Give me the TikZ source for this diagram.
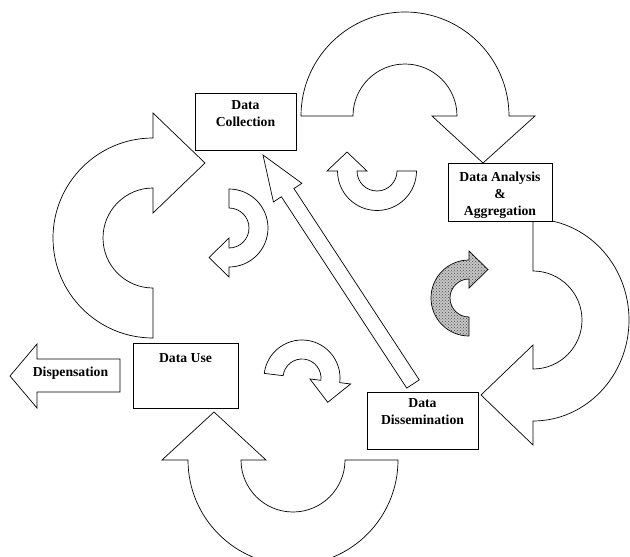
\documentclass[tikz,border=0pt]{standalone}
\usepackage{fontspec}
\setmainfont{Liberation Serif}
\usetikzlibrary{calc,patterns}
\begin{document}
\begin{tikzpicture}[x=1pt,y=1pt,yscale=-1,
  bigarrow/.style={draw=black, line width=0.7pt, fill=white, line join=miter},
  smallarrow/.style={draw=black, line width=0.7pt, fill=white, line join=miter},
  greyarrow/.style={draw=black, line width=0.7pt, fill=gray!45, line join=miter},
  box/.style={draw=black, line width=0.9pt, fill=white, inner sep=0pt},
  lbl/.style={font=\fontsize{13.7}{17}\selectfont\bfseries, align=center, inner sep=0pt},
]
\useasboundingbox (0,0) rectangle (630,557);
\clip (0,0) rectangle (630,557);

% big circular arrows
% left (tail at bottom, head to the right at top)
\draw[bigarrow] (153,288) -- (153,338) arc[start angle=90, end angle=270, radius=100]
  -- (153,113) -- (205,163) -- (153,213) -- (153,188)
  arc[start angle=270, end angle=90, radius=50] -- cycle;
% top (tail at left, head down at right)
\draw[bigarrow] (353,116) -- (301,116) arc[start angle=180, end angle=360, radius=104]
  -- (535,116) -- (483,163) -- (432,116) -- (457,116)
  arc[start angle=360, end angle=180, radius=52] -- cycle;
% right (tail at top, head to the left at bottom)
\draw[bigarrow] (533,271) -- (533,219) arc[start angle=270, end angle=450, x radius=96, y radius=101]
  -- (533,445) -- (481,395) -- (533,345) -- (533,369)
  arc[start angle=450, end angle=270, radius=49] -- cycle;
% bottom (tail at right, head up at left)
\draw[bigarrow] (345,460) -- (398,460) arc[start angle=0, end angle=180, radius=105]
  -- (162,460) -- (214,412) -- (266,460) -- (241,460)
  arc[start angle=180, end angle=0, radius=52] -- cycle;

% small arrows
\draw[smallarrow] (229,208) -- (229,189) arc[start angle=270, end angle=450, radius=39]
  -- (229,277) -- (209,257.5) -- (229,238) -- (229,248)
  arc[start angle=450, end angle=270, radius=20] -- cycle;
\draw[smallarrow] (397,171) -- (416.5,171) arc[start angle=0, end angle=180, radius=39.5]
  -- (327,171) -- (347,152) -- (367,171) -- (357,171)
  arc[start angle=180, end angle=0, radius=20] -- cycle;
\begin{scope}[shift={(302,378)}, rotate=7]
\draw[smallarrow] (-19,0) -- (-38,0) arc[start angle=180, end angle=360, radius=38]
  -- (49,0) -- (28.5,21) -- (8,0) -- (19,0)
  arc[start angle=360, end angle=180, radius=19] -- cycle;
\end{scope}
\draw[greyarrow] (469,317) -- (469,336) arc[start angle=90, end angle=270, radius=38]
  -- (469,251) -- (488,269.5) -- (469,288) -- (469,279)
  arc[start angle=270, end angle=90, radius=19] -- cycle;
\fill[pattern=crosshatch dots, pattern color=gray!60!black] (469,317) -- (469,336) arc[start angle=90, end angle=270, radius=38]
  -- (469,251) -- (488,269.5) -- (469,288) -- (469,279)
  arc[start angle=270, end angle=90, radius=19] -- cycle;

% boxes
\node[box, minimum width=101pt, minimum height=57pt] (dc) at (245.5,121.5) {};
\node[box, minimum width=104pt, minimum height=58pt] (da) at (500,192) {};
\node[box, minimum width=111pt, minimum height=57pt] (dd) at (422.5,420.5) {};
\node[box, minimum width=105pt, minimum height=65pt] (du) at (185.5,375.5) {};

\node[lbl, anchor=north] (dct) at (245.5,100.5) {Data\\Collection};
\node[lbl, anchor=north] (dat) at (500,171.5) {Data Analysis\\\&\\Aggregation};
\node[lbl, anchor=north] (ddt) at (422.5,398) {Data\\Dissemination};
\node[lbl, anchor=north] (dut) at (185.5,353) {Data Use};

% long straight arrow from dissemination to collection
\coordinate (dtail) at (413,384);
\coordinate (dtip) at (263,155);
\coordinate (hb) at ($(dtip)!45pt!(dtail)$);
\draw[bigarrow] ($(dtail)!7.5pt!-90:(dtip)$) -- ($(dtail)!7.5pt!90:(dtip)$)
  -- ($(hb)!7.5pt!90:(dtip)$) -- ($(hb)!17pt!90:(dtip)$) -- (dtip)
  -- ($(hb)!17pt!-90:(dtip)$) -- ($(hb)!7.5pt!-90:(dtip)$) -- cycle;

% dispensation arrow
\draw[bigarrow] (10,376) -- (37,344) -- (37,359) -- (120,359) -- (120,392)
  -- (37,392) -- (37,408) -- cycle;
\node[lbl, anchor=base] (disp) at (70.5,376.5) {Dispensation};
\end{tikzpicture}
\end{document}
